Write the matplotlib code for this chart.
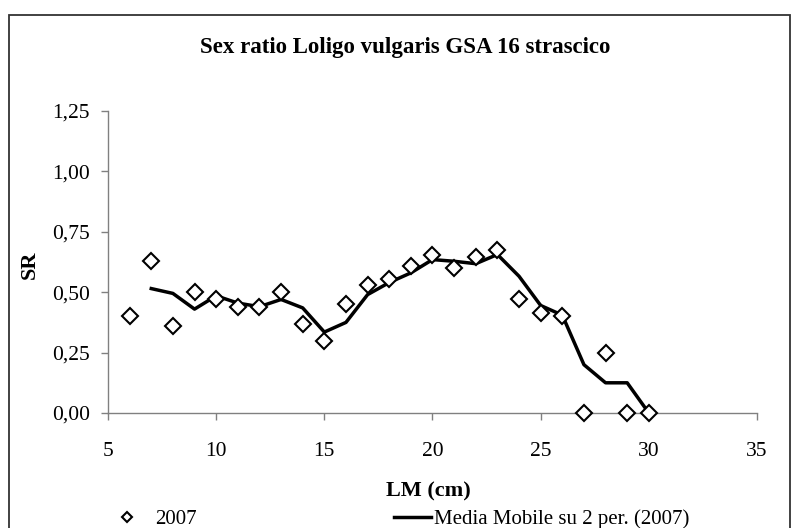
import matplotlib.pyplot as plt
from matplotlib.patches import Rectangle
from matplotlib.lines import Line2D

plt.rcParams["font.family"] = ["Liberation Serif", "DejaVu Serif"]

# lunghezza mantello (cm) e sex ratio osservato, 2007
lm = [6, 7, 8, 9, 10, 11, 12, 13, 14, 15, 16, 17, 18, 19, 20, 21, 22, 23, 24, 25,
      26, 27, 28, 29, 30]
sr_2007 = [0.40, 0.63, 0.36, 0.50, 0.47, 0.44, 0.44, 0.50, 0.37, 0.30, 0.45, 0.53,
           0.555, 0.61, 0.655, 0.60, 0.645, 0.675, 0.47, 0.415, 0.40, 0.0, 0.25,
           0.0, 0.0]

# media mobile su 2 periodi
lm_mm = lm[1:]
sr_mm = [0.515, 0.495, 0.43, 0.485, 0.455, 0.44, 0.47, 0.435, 0.335, 0.375, 0.49,
         0.54, 0.58, 0.635, 0.628, 0.618, 0.656, 0.566, 0.445, 0.405, 0.20, 0.125,
         0.125, 0.0]

xticks = [5, 10, 15, 20, 25, 30, 35]
yticks = [0.0, 0.25, 0.5, 0.75, 1.0, 1.25]

fig = plt.figure(figsize=(7.92, 5.28), dpi=100)
ax = fig.add_axes([108 / 792, 1 - 413 / 528, 649 / 792, 302 / 528])

ax.plot(lm, sr_2007, linestyle="none", marker="D", markersize=8,
        markerfacecolor="white", markeredgecolor="black", markeredgewidth=1.5,
        clip_on=False, zorder=3)
ax.plot(lm_mm, sr_mm, color="black", linewidth=2.5, clip_on=False, zorder=2)

ax.set_xlim(5, 35)
ax.set_ylim(0, 1.25)
ax.set_xticks(xticks)
ax.set_yticks(yticks)
ax.set_yticklabels(["{:.2f}".format(v).replace(".", ",") for v in yticks])

for s in ["top", "right"]:
    ax.spines[s].set_visible(False)
for s in ["left", "bottom"]:
    ax.spines[s].set_color("#808080")
    ax.spines[s].set_linewidth(1.0)
ax.tick_params(axis="both", direction="out", length=5, width=1.0,
               color="#808080", labelsize=15.5)
ax.tick_params(axis="x", pad=16)
ax.tick_params(axis="y", pad=8)

fig.text(405 / 792, 1 - 47 / 528, "Sex ratio Loligo vulgaris GSA 16 strascico",
         fontsize=16.5, fontweight="bold", ha="center", va="center")

ax.set_xlabel("LM (cm)", fontsize=16, fontweight="bold")
ax.xaxis.set_label_coords((428 - 108) / 649, (413 - 491) / 302)
ax.xaxis.label.set_va("center")
ax.set_ylabel("SR", fontsize=16, fontweight="bold")
ax.yaxis.set_label_coords((30 - 108) / 649, (413 - 265) / 302)
ax.yaxis.label.set_va("center")

h1 = Line2D([], [], linestyle="none", marker="D", markersize=5,
            markerfacecolor="white", markeredgecolor="black", markeredgewidth=1.5)
h2 = Line2D([], [], color="black", linewidth=2.5)
fig.legend([h1], ["2007"], loc="center left", bbox_to_anchor=(0.124, 1 - 519 / 528),
           frameon=False, fontsize=15, handlelength=1, handletextpad=0.85)
fig.legend([h2], ["Media Mobile su 2 per. (2007)"], loc="center left",
           bbox_to_anchor=(0.474, 1 - 519 / 528), frameon=False, fontsize=15,
           handlelength=1.78, handletextpad=0.15)

# cornice esterna dell'area grafico
fig.patches.append(Rectangle((9 / 792, -0.05), (790 - 9) / 792, 1 - 15 / 528 + 0.05,
                             transform=fig.transFigure, fill=False,
                             edgecolor="#333333", linewidth=1.3))

fig.savefig("out.png", dpi=100)
